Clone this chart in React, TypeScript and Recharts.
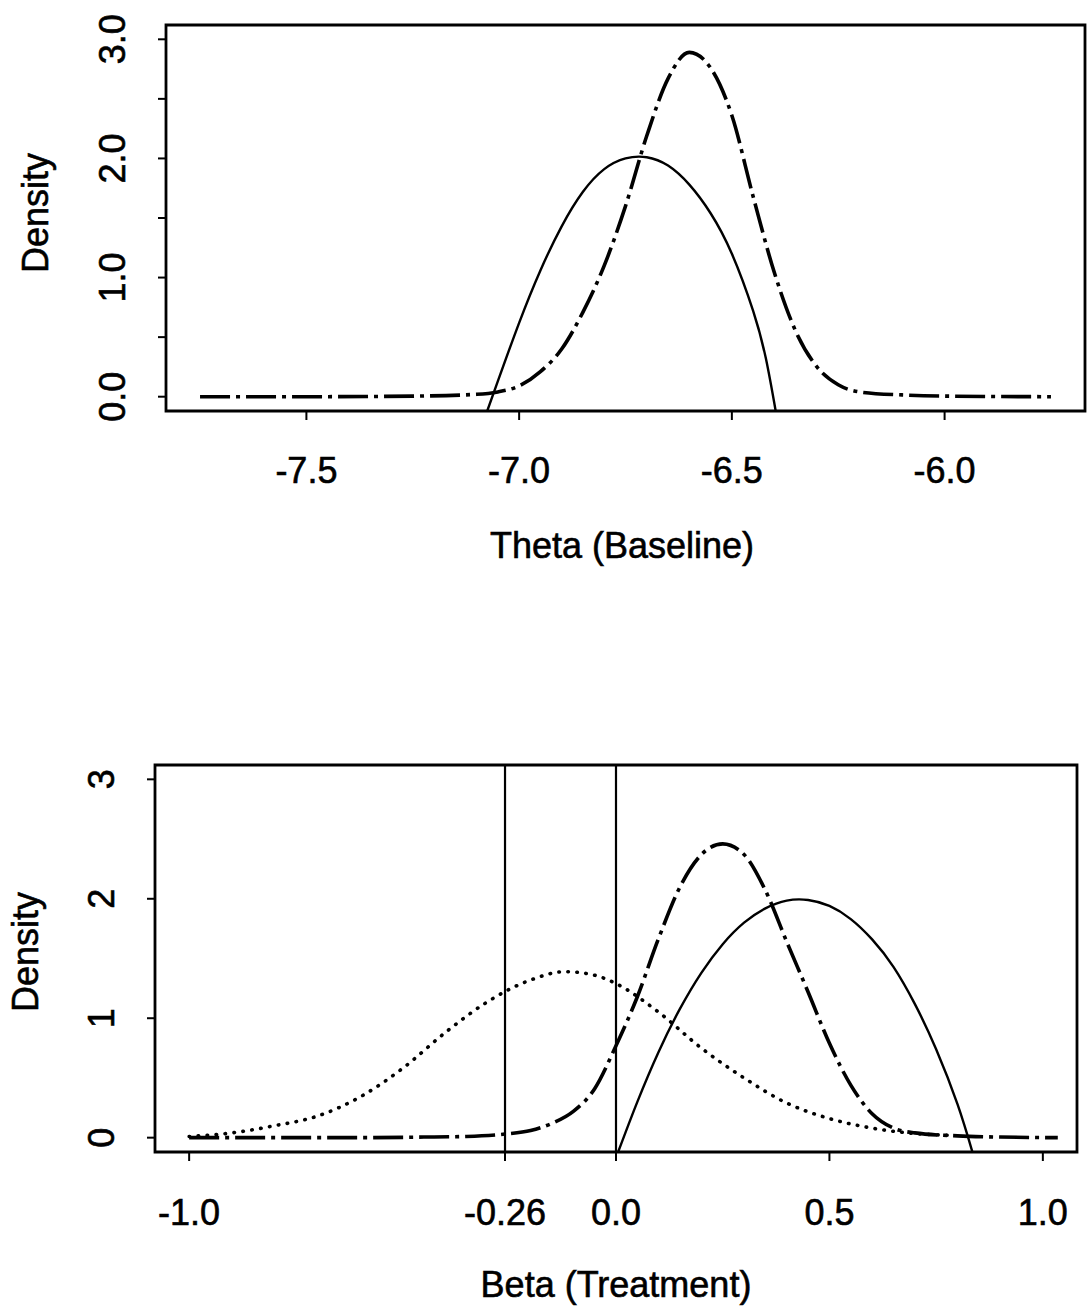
import React from 'react';
import { LineChart, Line, XAxis, YAxis, ReferenceArea, ReferenceLine, Label } from 'recharts';

const FONT = '"Liberation Sans", Arial, Helvetica, sans-serif';

// ---------- Top panel: Theta (Baseline) ----------
const thetaTicks = [-7.5, -7.0, -6.5, -6.0];
const thetaTickLabels = ['-7.5', '-7.0', '-6.5', '-6.0'];
const thetaDensityTicks = [0, 0.5, 1, 1.5, 2, 2.5, 3];
const thetaDensityLabels = ['0.0', '', '1.0', '', '2.0', '', '3.0'];

const thetaPosteriorX = [-7.75, -7.5, -7.25, -7.1, -7.05, -7.0, -6.95, -6.9, -6.85, -6.8, -6.75, -6.7, -6.65, -6.6, -6.55, -6.5, -6.45, -6.4, -6.35, -6.3, -6.25, -6.2, -6.1, -6.0, -5.75];
const thetaPosteriorY = [0, 0, 0.005, 0.02, 0.04, 0.09, 0.21, 0.4, 0.71, 1.1, 1.6, 2.19, 2.67, 2.89, 2.76, 2.36, 1.68, 1.04, 0.55, 0.25, 0.1, 0.04, 0.015, 0.005, 0];

const thetaPriorX = [-7.075, -7.05, -7.0, -6.95, -6.9, -6.85, -6.8, -6.75, -6.7, -6.65, -6.6, -6.55, -6.5, -6.45, -6.42, -6.397];
const thetaPriorY = [-0.12, 0.13, 0.62, 1.06, 1.43, 1.72, 1.91, 2.0, 2.01, 1.94, 1.78, 1.54, 1.2, 0.72, 0.32, -0.12];

// ---------- Bottom panel: Beta (Treatment) ----------
const betaTicks = [-1.0, -0.26, 0.0, 0.5, 1.0];
const betaTickLabels = ['-1.0', '-0.26', '0.0', '0.5', '1.0'];
const betaDensityTicks = [0, 1, 2, 3];
const betaDensityLabels = ['0', '1', '2', '3'];
const betaVerticalLines = [-0.26, 0.0];

const betaDottedX = [-1.0, -0.9, -0.8, -0.7, -0.6, -0.5, -0.4, -0.3, -0.2, -0.12, -0.05, 0.0, 0.1, 0.2, 0.3, 0.4, 0.5, 0.6, 0.7, 0.78];
const betaDottedY = [0.01, 0.04, 0.1, 0.18, 0.34, 0.58, 0.88, 1.14, 1.32, 1.39, 1.36, 1.29, 1.05, 0.75, 0.5, 0.29, 0.16, 0.08, 0.035, 0.02];

const betaPosteriorX = [-1.0, -0.8, -0.6, -0.45, -0.35, -0.26, -0.2, -0.15, -0.1, -0.05, 0.0, 0.05, 0.1, 0.15, 0.2, 0.25, 0.3, 0.35, 0.4, 0.45, 0.5, 0.55, 0.6, 0.65, 0.7, 0.8, 0.9, 1.035];
const betaPosteriorY = [0, 0, 0, 0.005, 0.01, 0.03, 0.06, 0.12, 0.22, 0.41, 0.77, 1.18, 1.67, 2.1, 2.37, 2.46, 2.37, 2.07, 1.64, 1.22, 0.79, 0.44, 0.2, 0.08, 0.04, 0.015, 0.005, 0];

const betaSolidX = [0.005, 0.05, 0.1, 0.15, 0.2, 0.25, 0.3, 0.35, 0.4, 0.45, 0.5, 0.55, 0.6, 0.65, 0.7, 0.75, 0.8, 0.835];
const betaSolidY = [-0.12, 0.3, 0.72, 1.08, 1.38, 1.62, 1.8, 1.92, 1.985, 1.99, 1.94, 1.83, 1.66, 1.43, 1.12, 0.74, 0.28, -0.12];

const zip = (xs: number[], ys: number[]) => xs.map((x, i) => ({ x, y: ys[i] }));

const thetaPosterior = zip(thetaPosteriorX, thetaPosteriorY);
const thetaPrior = zip(thetaPriorX, thetaPriorY);
const betaDotted = zip(betaDottedX, betaDottedY);
const betaPosterior = zip(betaPosteriorX, betaPosteriorY);
const betaSolid = zip(betaSolidX, betaSolidY);

const THETA_X_DOMAIN: [number, number] = [-7.83, -5.67];
const BETA_X_DOMAIN: [number, number] = [-1.08, 1.08];
const Y_DOMAIN: [number, number] = [-0.12, 3.12];

const textStyle = { fontSize: 36, fontFamily: FONT, fill: '#000', stroke: '#000', strokeWidth: 0.6 };

const makeXTick = (labelY: number, values: number[], labels: string[]) => (props: any) => {
  const { x, payload } = props;
  const i = values.findIndex((v) => Math.abs(v - payload.value) < 1e-9);
  const t = i >= 0 ? labels[i] : '';
  return (
    <text x={x} y={labelY} textAnchor="middle" dominantBaseline="central" {...textStyle}>
      {t}
    </text>
  );
};

const makeYTick = (labelX: number, values: number[], labels: string[]) => (props: any) => {
  const { y, payload } = props;
  const i = values.findIndex((v) => Math.abs(v - payload.value) < 1e-9);
  const t = i >= 0 ? labels[i] : '';
  return (
    <text
      x={labelX}
      y={y}
      transform={`rotate(-90 ${labelX} ${y})`}
      textAnchor="middle"
      dominantBaseline="central"
      {...textStyle}
    >
      {t}
    </text>
  );
};

const AxisTitle = ({ x, y, text, rotate }: { x: number; y: number; text: string; rotate?: boolean }) => (
  <text
    x={x}
    y={y}
    transform={rotate ? `rotate(-90 ${x} ${y})` : undefined}
    textAnchor="middle"
    dominantBaseline="central"
    {...textStyle}
  >
    {text}
  </text>
);

const DASHDOT = '30 6 4 6';

export default function App() {
  return (
    <div style={{ position: 'absolute', left: 0, top: 0, width: 1087, height: 1312, background: '#fff' }}>
      <div style={{ position: 'absolute', left: 0, top: 0 }}>
        <LineChart width={1087} height={600} margin={{ top: 25, right: 2, bottom: 0, left: 0 }}>
          <XAxis
            type="number"
            dataKey="x"
            domain={THETA_X_DOMAIN}
            allowDataOverflow
            ticks={thetaTicks}
            interval={0}
            height={189}
            axisLine={false}
            tickLine={{ stroke: '#000', strokeWidth: 2 }}
            tickSize={9}
            tick={makeXTick(470, thetaTicks, thetaTickLabels)}
          >
            <Label content={() => <AxisTitle x={622} y={545} text="Theta (Baseline)" />} />
          </XAxis>
          <YAxis
            type="number"
            domain={Y_DOMAIN}
            allowDataOverflow
            ticks={thetaDensityTicks}
            interval={0}
            width={166}
            axisLine={false}
            tickLine={{ stroke: '#000', strokeWidth: 2 }}
            tickSize={8}
            tick={makeYTick(113, thetaDensityTicks, thetaDensityLabels)}
          >
            <Label content={() => <AxisTitle x={35} y={213} text="Density" rotate />} />
          </YAxis>
          <ReferenceArea
            x1={THETA_X_DOMAIN[0]}
            x2={THETA_X_DOMAIN[1]}
            y1={Y_DOMAIN[0]}
            y2={Y_DOMAIN[1]}
            fill="none"
            stroke="#000"
            strokeWidth={2.8}
            ifOverflow="visible"
          />
          <Line data={thetaPrior} dataKey="y" type="natural" stroke="#000" strokeWidth={2.4} dot={false} isAnimationActive={false} />
          <Line data={thetaPosterior} dataKey="y" type="monotone" stroke="#000" strokeWidth={3.6} strokeDasharray={DASHDOT} dot={false} isAnimationActive={false} />
        </LineChart>
      </div>

      <div style={{ position: 'absolute', left: 0, top: 700 }}>
        <LineChart width={1087} height={612} margin={{ top: 65, right: 10, bottom: 0, left: 0 }}>
          <XAxis
            type="number"
            dataKey="x"
            domain={BETA_X_DOMAIN}
            allowDataOverflow
            ticks={betaTicks}
            interval={0}
            height={160}
            axisLine={false}
            tickLine={{ stroke: '#000', strokeWidth: 2 }}
            tickSize={9}
            tick={makeXTick(512, betaTicks, betaTickLabels)}
          >
            <Label content={() => <AxisTitle x={616} y={584} text="Beta (Treatment)" />} />
          </XAxis>
          <YAxis
            type="number"
            domain={Y_DOMAIN}
            allowDataOverflow
            ticks={betaDensityTicks}
            interval={0}
            width={155}
            axisLine={false}
            tickLine={{ stroke: '#000', strokeWidth: 2 }}
            tickSize={8}
            tick={makeYTick(102, betaDensityTicks, betaDensityLabels)}
          >
            <Label content={() => <AxisTitle x={25} y={252} text="Density" rotate />} />
          </YAxis>
          <ReferenceArea
            x1={BETA_X_DOMAIN[0]}
            x2={BETA_X_DOMAIN[1]}
            y1={Y_DOMAIN[0]}
            y2={Y_DOMAIN[1]}
            fill="none"
            stroke="#000"
            strokeWidth={2.8}
            ifOverflow="visible"
          />
          {betaVerticalLines.map((v) => (
            <ReferenceLine key={v} x={v} stroke="#000" strokeWidth={2.2} />
          ))}
          <Line data={betaDotted} dataKey="y" type="monotone" stroke="#000" strokeWidth={3.6} strokeDasharray="0.5 8.5" strokeLinecap="round" dot={false} isAnimationActive={false} />
          <Line data={betaSolid} dataKey="y" type="natural" stroke="#000" strokeWidth={2.4} dot={false} isAnimationActive={false} />
          <Line data={betaPosterior} dataKey="y" type="monotone" stroke="#000" strokeWidth={3.6} strokeDasharray={DASHDOT} dot={false} isAnimationActive={false} />
        </LineChart>
      </div>
    </div>
  );
}
